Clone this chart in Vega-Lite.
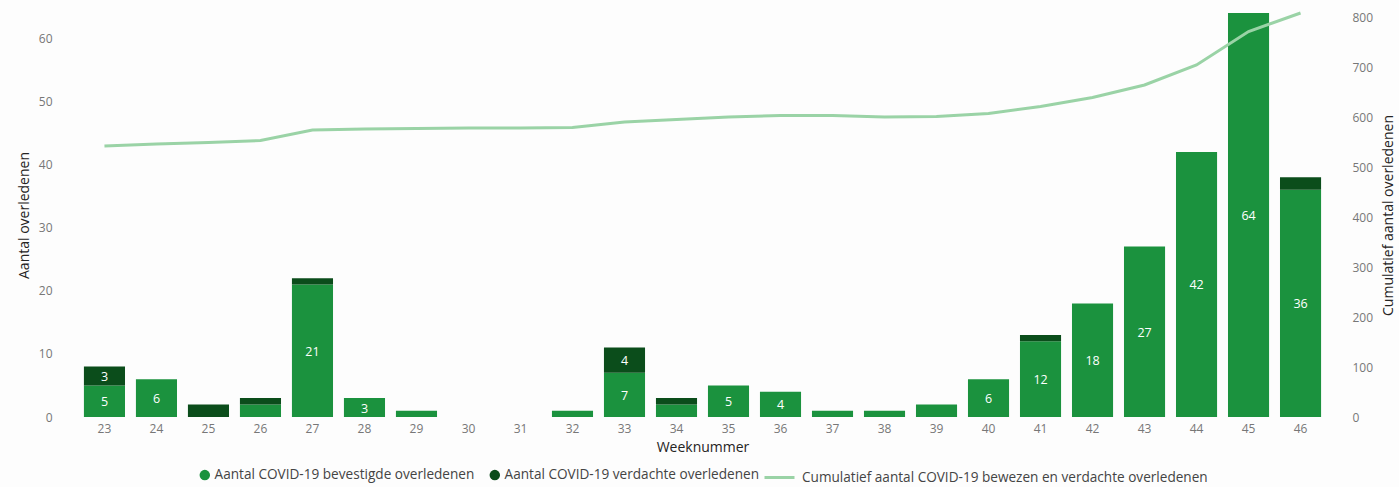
{
  "$schema": "https://vega.github.io/schema/vega-lite/v6.json",
  "width": 1285,
  "height": 404,
  "autosize": "none",
  "padding": {"left": 60, "top": 13, "right": 54, "bottom": 70},
  "background": "#fdfdfd",
  "config": {
    "font": "Open Sans",
    "view": {"stroke": null},
    "axis": {"grid": false, "ticks": false, "domain": false, "labelColor": "#777777", "labelFontSize": 12, "titleFontSize": 14, "titleFontWeight": "normal", "titleColor": "#252423"},
    "legend": {"labelFontSize": 13.6, "labelColor": "#444444", "orient": "none", "direction": "horizontal", "labelLimit": 600}
  },
  "data": {
    "values": [
      {"week": "23", "Aantal COVID-19 bevestigde overledenen": 5, "Aantal COVID-19 verdachte overledenen": 3, "cum": 542},
      {"week": "24", "Aantal COVID-19 bevestigde overledenen": 6, "Aantal COVID-19 verdachte overledenen": 0, "cum": 546},
      {"week": "25", "Aantal COVID-19 bevestigde overledenen": 0, "Aantal COVID-19 verdachte overledenen": 2, "cum": 549},
      {"week": "26", "Aantal COVID-19 bevestigde overledenen": 2, "Aantal COVID-19 verdachte overledenen": 1, "cum": 553},
      {"week": "27", "Aantal COVID-19 bevestigde overledenen": 21, "Aantal COVID-19 verdachte overledenen": 1, "cum": 574},
      {"week": "28", "Aantal COVID-19 bevestigde overledenen": 3, "Aantal COVID-19 verdachte overledenen": 0, "cum": 576},
      {"week": "29", "Aantal COVID-19 bevestigde overledenen": 1, "Aantal COVID-19 verdachte overledenen": 0, "cum": 577},
      {"week": "30", "Aantal COVID-19 bevestigde overledenen": 0, "Aantal COVID-19 verdachte overledenen": 0, "cum": 578},
      {"week": "31", "Aantal COVID-19 bevestigde overledenen": 0, "Aantal COVID-19 verdachte overledenen": 0, "cum": 578},
      {"week": "32", "Aantal COVID-19 bevestigde overledenen": 1, "Aantal COVID-19 verdachte overledenen": 0, "cum": 579},
      {"week": "33", "Aantal COVID-19 bevestigde overledenen": 7, "Aantal COVID-19 verdachte overledenen": 4, "cum": 590},
      {"week": "34", "Aantal COVID-19 bevestigde overledenen": 2, "Aantal COVID-19 verdachte overledenen": 1, "cum": 595},
      {"week": "35", "Aantal COVID-19 bevestigde overledenen": 5, "Aantal COVID-19 verdachte overledenen": 0, "cum": 600},
      {"week": "36", "Aantal COVID-19 bevestigde overledenen": 4, "Aantal COVID-19 verdachte overledenen": 0, "cum": 603},
      {"week": "37", "Aantal COVID-19 bevestigde overledenen": 1, "Aantal COVID-19 verdachte overledenen": 0, "cum": 603},
      {"week": "38", "Aantal COVID-19 bevestigde overledenen": 1, "Aantal COVID-19 verdachte overledenen": 0, "cum": 600},
      {"week": "39", "Aantal COVID-19 bevestigde overledenen": 2, "Aantal COVID-19 verdachte overledenen": 0, "cum": 601},
      {"week": "40", "Aantal COVID-19 bevestigde overledenen": 6, "Aantal COVID-19 verdachte overledenen": 0, "cum": 607},
      {"week": "41", "Aantal COVID-19 bevestigde overledenen": 12, "Aantal COVID-19 verdachte overledenen": 1, "cum": 621},
      {"week": "42", "Aantal COVID-19 bevestigde overledenen": 18, "Aantal COVID-19 verdachte overledenen": 0, "cum": 639},
      {"week": "43", "Aantal COVID-19 bevestigde overledenen": 27, "Aantal COVID-19 verdachte overledenen": 0, "cum": 664},
      {"week": "44", "Aantal COVID-19 bevestigde overledenen": 42, "Aantal COVID-19 verdachte overledenen": 0, "cum": 704},
      {"week": "45", "Aantal COVID-19 bevestigde overledenen": 64, "Aantal COVID-19 verdachte overledenen": 0, "cum": 771},
      {"week": "46", "Aantal COVID-19 bevestigde overledenen": 36, "Aantal COVID-19 verdachte overledenen": 2, "cum": 808}
    ]
  },
  "encoding": {
    "x": {
      "field": "week", "type": "ordinal", "sort": null,
      "scale": {"paddingInner": 0.21, "paddingOuter": 0.46},
      "axis": {"labelAngle": 0, "labelPadding": 6, "title": "Weeknummer", "titlePadding": 6}
    }
  },
  "layer": [
    {
      "transform": [
        {"fold": ["Aantal COVID-19 bevestigde overledenen", "Aantal COVID-19 verdachte overledenen"], "as": ["soort", "aantal"]},
        {"stack": "aantal", "groupby": ["week"], "sort": [{"field": "soort", "order": "ascending"}], "as": ["y0", "y1"]},
        {"calculate": "(datum.y0 + datum.y1) / 2", "as": "ymid"}
      ],
      "layer": [
        {
          "mark": {"type": "bar"},
          "encoding": {
            "y": {"field": "y1", "type": "quantitative", "scale": {"domain": [0, 64], "nice": false},
              "axis": {"values": [0, 10, 20, 30, 40, 50, 60], "labelPadding": 8, "title": "Aantal overledenen", "titlePadding": 7}},
            "y2": {"field": "y0"},
            "fill": {
              "field": "soort", "type": "nominal",
              "scale": {"domain": ["Aantal COVID-19 bevestigde overledenen", "Aantal COVID-19 verdachte overledenen"], "range": ["#1b923e", "#0b4d1b"]},
              "legend": {"title": null, "symbolType": "circle", "symbolSize": 110, "legendX": 138, "legendY": 455, "columnPadding": 13, "symbolOffset": 0, "labelOffset": 3}
            }
          }
        },
        {
          "transform": [{"filter": "datum.aantal >= 3"}],
          "mark": {"type": "text", "color": "white", "fontSize": 12.5, "baseline": "middle", "dy": 1},
          "encoding": {
            "y": {"field": "ymid", "type": "quantitative"},
            "text": {"field": "aantal", "type": "quantitative"}
          }
        }
      ]
    },
    {
      "mark": {"type": "line", "strokeWidth": 3},
      "encoding": {
        "y": {"field": "cum", "type": "quantitative", "scale": {"domain": [0, 808], "nice": false},
          "axis": {"orient": "right", "values": [0, 100, 200, 300, 400, 500, 600, 700, 800], "labelPadding": 7, "title": "Cumulatief aantal overledenen", "titleAngle": 270, "titleBaseline": "top", "titlePadding": 9}},
        "stroke": {
          "datum": "Cumulatief aantal COVID-19 bewezen en verdachte overledenen",
          "scale": {"range": ["#9ad3a6"]},
          "legend": {"title": null, "symbolType": "stroke", "symbolSize": 900, "symbolStrokeWidth": 3, "legendX": 703, "legendY": 448, "labelOffset": 6}
        }
      }
    }
  ],
  "resolve": {"scale": {"y": "independent"}}
}
